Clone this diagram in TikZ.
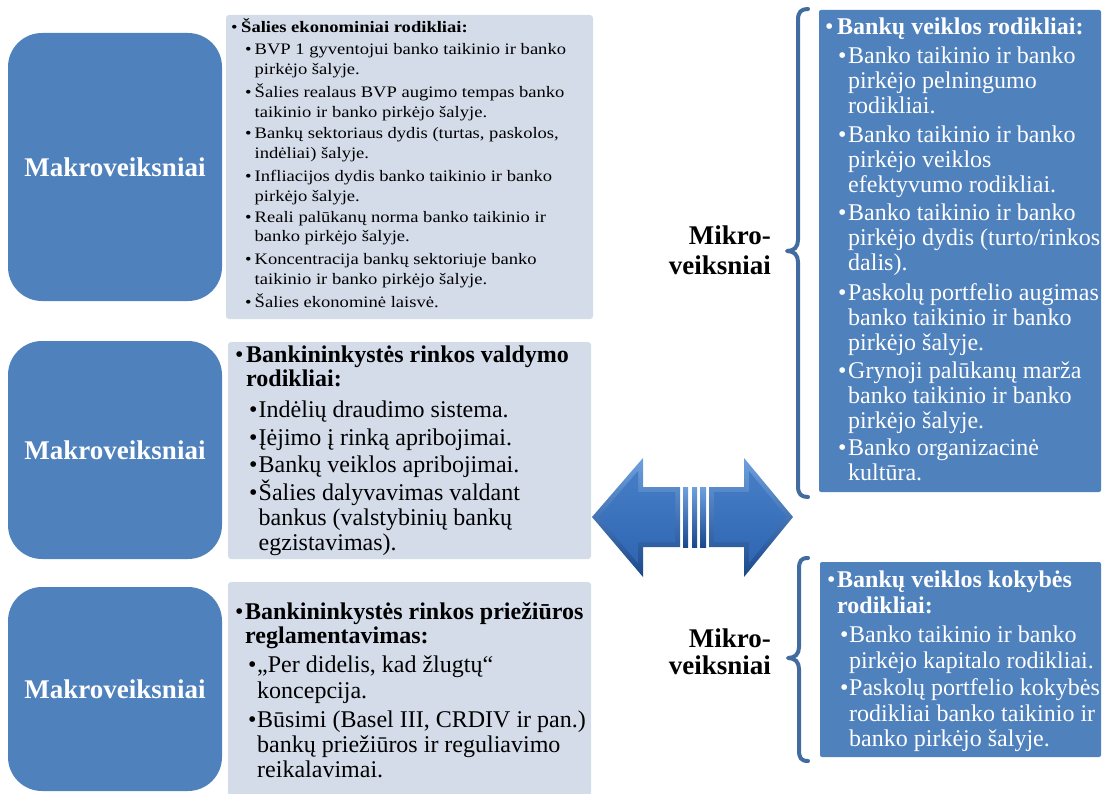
\documentclass[tikz,border=0pt]{standalone}
\usepackage{fontspec}
\setmainfont{Liberation Serif}
\newfontfamily\stretchserif[FakeStretch=1.16]{Liberation Serif}
\definecolor{accent}{RGB}{79,129,189}
\definecolor{pale}{RGB}{212,220,234}
\definecolor{bracec}{RGB}{66,108,160}
\definecolor{arrowtop}{RGB}{110,160,222}
\definecolor{arrowbot}{RGB}{26,72,140}
\definecolor{innertop}{RGB}{70,126,198}
\definecolor{innerbot}{RGB}{48,102,178}
\begin{document}
\begin{tikzpicture}[x=1pt,y=-1pt,
  macrobox/.style={fill=accent, rounded corners=34pt, minimum width=214pt, inner sep=0pt, text=white, font=\fontsize{27}{29}\selectfont\bfseries},
  palebox/.style={fill=pale, rounded corners=3pt},
  bluebox/.style={fill=accent, rounded corners=2pt},
  sm/.style={anchor=base west, inner sep=0pt, font=\stretchserif\fontsize{16}{18}\selectfont},
  smb/.style={sm, font=\stretchserif\fontsize{16}{18}\selectfont\bfseries},
  tx/.style={anchor=base west, inner sep=0pt, font=\fontsize{24}{26}\selectfont},
  txb/.style={tx, font=\fontsize{24}{26}\selectfont\bfseries},
  wtx/.style={tx, text=white},
  wtxb/.style={txb, text=white},
  mik/.style={anchor=base east, inner sep=0pt, font=\fontsize{27}{29}\selectfont\bfseries},
  bracepath/.style={draw=bracec, line width=4pt, line cap=round, line join=round},
  outerarrow/.style={top color=arrowtop, bottom color=arrowbot},
  innerarrow/.style={top color=innertop, bottom color=innerbot},
]
\useasboundingbox (0,0) rectangle (1105,794);

% ---------- left column: macro boxes ----------
\node[macrobox, minimum height=268pt] (m1) at (115,167) {Makroveiksniai};
\node[macrobox, minimum height=218pt] (m2) at (115,450) {Makroveiksniai};
\node[macrobox, minimum height=204pt] (m3) at (115,689) {Makroveiksniai};

% ---------- pale text boxes ----------
\fill[palebox] (226,15) rectangle (593,319);
\fill[palebox] (228,342) rectangle (591,559);
\fill[palebox] (228,582) rectangle (591,796);

% box 1
\node[sm]  (b1h) at (231,33) {•};
\node[smb] (t1h) at (241,33) {Šalies ekonominiai rodikliai:};
\node[sm] (b11) at (245,55) {•};
\node[sm] (t11a) at (254.5,55) {BVP 1 gyventojui banko taikinio ir banko};
\node[sm] (t11b) at (254.5,75) {pirkėjo šalyje.};
\node[sm] (b12) at (245,98) {•};
\node[sm] (t12a) at (254.5,98) {Šalies realaus BVP augimo tempas banko};
\node[sm] (t12b) at (254.5,118) {taikinio ir banko pirkėjo šalyje.};
\node[sm] (b13) at (245,139) {•};
\node[sm] (t13a) at (254.5,139) {Bankų sektoriaus dydis (turtas, paskolos,};
\node[sm] (t13b) at (254.5,159) {indėliai) šalyje.};
\node[sm] (b14) at (245,182) {•};
\node[sm] (t14a) at (254.5,182) {Infliacijos dydis banko taikinio ir banko};
\node[sm] (t14b) at (254.5,202) {pirkėjo šalyje.};
\node[sm] (b15) at (245,223) {•};
\node[sm] (t15a) at (254.5,223) {Reali palūkanų norma banko taikinio ir};
\node[sm] (t15b) at (254.5,242) {banko pirkėjo šalyje.};
\node[sm] (b16) at (245,265) {•};
\node[sm] (t16a) at (254.5,265) {Koncentracija bankų sektoriuje banko};
\node[sm] (t16b) at (254.5,284) {taikinio ir banko pirkėjo šalyje.};
\node[sm] (b17) at (245,307) {•};
\node[sm] (t17a) at (254.5,307) {Šalies ekonominė laisvė.};

% box 2
\node[tx]  (b2h) at (235,362) {•};
\node[txb] (t2ha) at (246,362) {Bankininkystės rinkos valdymo};
\node[txb] (t2hb) at (246,386) {rodikliai:};
\node[tx] (b21) at (249,417) {•};
\node[tx] (t21) at (258.5,417) {Indėlių draudimo sistema.};
\node[tx] (b22) at (249,445) {•};
\node[tx] (t22) at (258.5,445) {Įėjimo į rinką apribojimai.};
\node[tx] (b23) at (249,472) {•};
\node[tx] (t23) at (258.5,472) {Bankų veiklos apribojimai.};
\node[tx] (b24) at (249,500) {•};
\node[tx] (t24a) at (258.5,500) {Šalies dalyvavimas valdant};
\node[tx] (t24b) at (258.5,525) {bankus (valstybinių bankų};
\node[tx] (t24c) at (258.5,550) {egzistavimas).};

% box 3
\node[tx]  (b3h) at (235,619) {•};
\node[txb] (t3ha) at (245,619) {Bankininkystės rinkos priežiūros};
\node[txb] (t3hb) at (245,643) {reglamentavimas:};
\node[tx] (b31) at (248,672) {•};
\node[tx] (t31a) at (257,672) {„Per didelis, kad žlugtų“};
\node[tx] (t31b) at (257,698) {koncepcija.};
\node[tx] (b32) at (248,727) {•};
\node[tx] (t32a) at (257,727) {Būsimi (Basel III,\ CRDIV ir pan.)};
\node[tx] (t32b) at (257,752) {bankų priežiūros ir reguliavimo};
\node[tx] (t32c) at (257,777) {reikalavimai.};

% ---------- double arrow ----------
\shade[outerarrow] (592,517) -- (643,458) -- (643,487) -- (680,487) -- (680,547) -- (643,547) -- (643,577) -- cycle;
\shade[innerarrow] (598.6,517) -- (638,471) -- (638,492) -- (675,492) -- (675,542) -- (638,542) -- (638,563) -- cycle;
\shade[outerarrow] (683,487) rectangle (688,547);
\shade[outerarrow] (692,487) rectangle (697,547);
\shade[outerarrow] (700,487) rectangle (706,547);
\shade[outerarrow] (709,487) -- (744,487) -- (744,458) -- (793,517) -- (744,577) -- (744,547) -- (709,547) -- cycle;
\shade[innerarrow] (714,492) -- (749,492) -- (749,471) -- (786.4,517) -- (749,563) -- (749,542) -- (714,542) -- cycle;

% ---------- right side ----------
\fill[bluebox] (819,10) rectangle (1101,492);
\fill[bluebox] (820,562) rectangle (1101,757);

% braces
\draw[bracepath] (808,9) .. controls (801,9) and (798,12) .. (798,20) -- (798,240)
  .. controls (798,247) and (794,251) .. (787,251)
  .. controls (794,251) and (798,255) .. (798,262) -- (798,486)
  .. controls (798,494) and (801,497) .. (808,497);
\draw[bracepath] (808,558) .. controls (801,558) and (799,561) .. (799,569) -- (799,647)
  .. controls (799,654) and (795,658) .. (788,658)
  .. controls (795,658) and (799,662) .. (799,669) -- (799,750)
  .. controls (799,758) and (801,761) .. (808,761);

% labels
\node[mik] (mk1a) at (771,245) {Mikro-};
\node[mik] (mk1b) at (771,274) {veiksniai};
\node[mik] (mk2a) at (771,647) {Mikro-};
\node[mik] (mk2b) at (771,674) {veiksniai};

% right box 1
\node[wtx]  (r1hb) at (825,35) {•};
\node[wtxb] (r1h) at (837,35) {Bankų veiklos rodikliai:};
\node[wtx] (r11b) at (838,64) {•};
\node[wtx] (r11a) at (848,64) {Banko taikinio ir banko};
\node[wtx] (r11c) at (848,89) {pirkėjo pelningumo};
\node[wtx] (r11d) at (848,114) {rodikliai.};
\node[wtx] (r12b) at (838,143) {•};
\node[wtx] (r12a) at (848,143) {Banko taikinio ir banko};
\node[wtx] (r12c) at (848,168) {pirkėjo veiklos};
\node[wtx] (r12d) at (848,193) {efektyvumo rodikliai.};
\node[wtx] (r13b) at (838,221) {•};
\node[wtx] (r13a) at (848,221) {Banko taikinio ir banko};
\node[wtx] (r13c) at (848,246) {pirkėjo dydis (turto/rinkos};
\node[wtx] (r13d) at (848,271) {dalis).};
\node[wtx] (r14b) at (838,300) {•};
\node[wtx] (r14a) at (848,300) {Paskolų portfelio augimas};
\node[wtx] (r14c) at (848,325) {banko taikinio ir banko};
\node[wtx] (r14d) at (848,350) {pirkėjo šalyje.};
\node[wtx] (r15b) at (838,378) {•};
\node[wtx] (r15a) at (848,378) {Grynoji palūkanų marža};
\node[wtx] (r15c) at (848,403) {banko taikinio ir banko};
\node[wtx] (r15d) at (848,428) {pirkėjo šalyje.};
\node[wtx] (r16b) at (838,455) {•};
\node[wtx] (r16a) at (848,455) {Banko organizacinė};
\node[wtx] (r16c) at (848,480) {kultūra.};

% right box 2
\node[wtx]  (r2hb) at (827,587) {•};
\node[wtxb] (r2ha) at (837,587) {Bankų veiklos kokybės};
\node[wtxb] (r2hc) at (837,613) {rodikliai:};
\node[wtx] (r21b) at (840,642) {•};
\node[wtx] (r21a) at (849,642) {Banko taikinio ir banko};
\node[wtx] (r21c) at (849,668) {pirkėjo kapitalo rodikliai.};
\node[wtx] (r22b) at (840,695) {•};
\node[wtx] (r22a) at (849,695) {Paskolų portfelio kokybės};
\node[wtx] (r22c) at (849,721) {rodikliai banko taikinio ir};
\node[wtx] (r22d) at (849,746) {banko pirkėjo šalyje.};
\end{tikzpicture}
\end{document}
